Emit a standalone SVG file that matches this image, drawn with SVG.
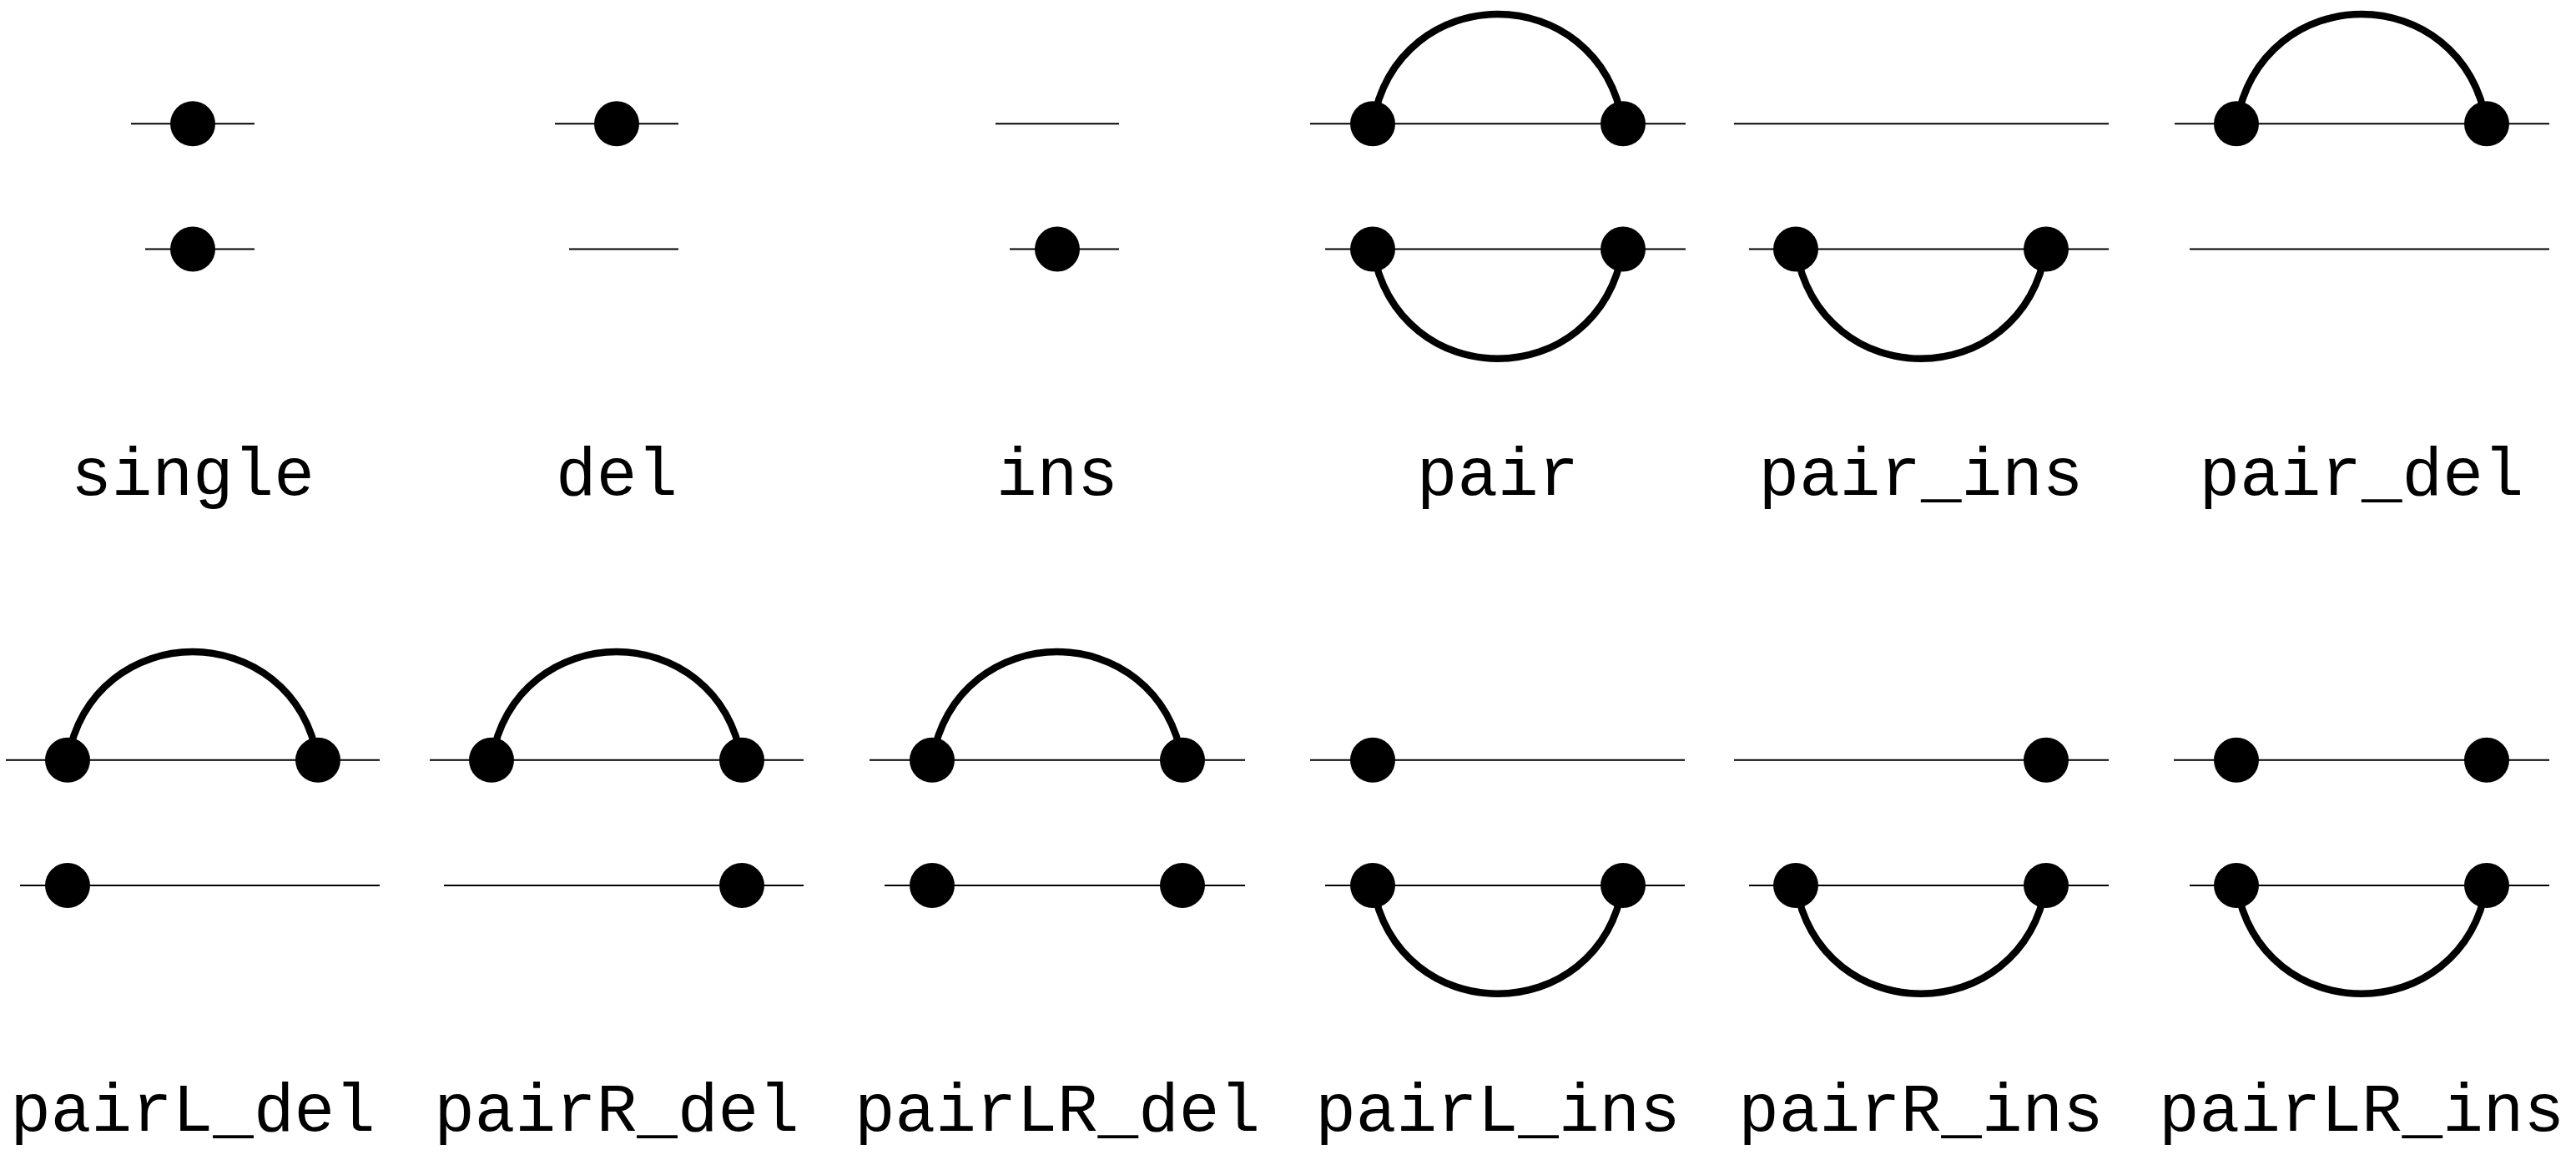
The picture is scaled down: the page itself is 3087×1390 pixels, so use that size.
<svg xmlns="http://www.w3.org/2000/svg" width="3087" height="1390" viewBox="0 0 3087 1390">
<style>
.s{stroke:#000;stroke-width:2;fill:none}
.a{stroke:#000;stroke-width:8.5;fill:none}
.d{fill:#000}
.t{font-family:"Liberation Mono","DejaVu Sans Mono",monospace;font-size:81px;fill:#000;text-anchor:middle}
</style>
<rect width="3087" height="1390" fill="#fff"/>
<g id="connectors">
<path class="a" d="M1645,148.3 C1675,-26.7 1915,-26.7 1945,148.3"/>
<path class="a" d="M1645,298.5 C1675,473.5 1915,473.5 1945,298.5"/>
<path class="a" d="M2152,298.5 C2182,473.5 2422,473.5 2452,298.5"/>
<path class="a" d="M2680,148.3 C2710,-26.7 2950,-26.7 2980,148.3"/>
<path class="a" d="M81,910.8 C111,737.8 351,737.8 381,910.8"/>
<path class="a" d="M589,910.8 C619,737.8 859,737.8 889,910.8"/>
<path class="a" d="M1117,910.8 C1147,737.8 1387,737.8 1417,910.8"/>
<path class="a" d="M1645,1061 C1675,1234 1915,1234 1945,1061"/>
<path class="a" d="M2152,1061 C2182,1234 2422,1234 2452,1061"/>
<path class="a" d="M2680,1061 C2710,1234 2950,1234 2980,1061"/>
</g>
<g id="single">
<line class="s" x1="157" y1="148.3" x2="305" y2="148.3"/>
<line class="s" x1="174" y1="298.5" x2="305" y2="298.5"/>
<circle class="d" cx="231" cy="148.3" r="27"/>
<circle class="d" cx="231" cy="298.5" r="27"/>
<text class="t" x="231" y="593">single</text>
</g>
<g id="del">
<line class="s" x1="665" y1="148.3" x2="813" y2="148.3"/>
<line class="s" x1="682" y1="298.5" x2="813" y2="298.5"/>
<circle class="d" cx="739" cy="148.3" r="27"/>
<text class="t" x="739" y="593">del</text>
</g>
<g id="ins">
<line class="s" x1="1193" y1="148.3" x2="1341" y2="148.3"/>
<line class="s" x1="1210" y1="298.5" x2="1341" y2="298.5"/>
<circle class="d" cx="1267" cy="298.5" r="27"/>
<text class="t" x="1267" y="593">ins</text>
</g>
<g id="pair">
<line class="s" x1="1570" y1="148.3" x2="2020" y2="148.3"/>
<line class="s" x1="1588" y1="298.5" x2="2020" y2="298.5"/>
<circle class="d" cx="1645" cy="148.3" r="27"/>
<circle class="d" cx="1945" cy="148.3" r="27"/>
<circle class="d" cx="1645" cy="298.5" r="27"/>
<circle class="d" cx="1945" cy="298.5" r="27"/>
<text class="t" x="1795" y="593">pair</text>
</g>
<g id="pair_ins">
<line class="s" x1="2078" y1="148.3" x2="2527" y2="148.3"/>
<line class="s" x1="2096" y1="298.5" x2="2527" y2="298.5"/>
<circle class="d" cx="2152" cy="298.5" r="27"/>
<circle class="d" cx="2452" cy="298.5" r="27"/>
<text class="t" x="2302" y="593">pair_ins</text>
</g>
<g id="pair_del">
<line class="s" x1="2606" y1="148.3" x2="3055" y2="148.3"/>
<line class="s" x1="2624" y1="298.5" x2="3055" y2="298.5"/>
<circle class="d" cx="2680" cy="148.3" r="27"/>
<circle class="d" cx="2980" cy="148.3" r="27"/>
<text class="t" x="2830" y="593">pair_del</text>
</g>
<g id="pairL_del">
<line class="s" x1="7" y1="910.8" x2="455" y2="910.8"/>
<line class="s" x1="24" y1="1061" x2="455" y2="1061"/>
<circle class="d" cx="81" cy="910.8" r="27"/>
<circle class="d" cx="381" cy="910.8" r="27"/>
<circle class="d" cx="81" cy="1061" r="27"/>
<text class="t" x="231" y="1355">pairL_del</text>
</g>
<g id="pairR_del">
<line class="s" x1="515" y1="910.8" x2="963" y2="910.8"/>
<line class="s" x1="532" y1="1061" x2="963" y2="1061"/>
<circle class="d" cx="589" cy="910.8" r="27"/>
<circle class="d" cx="889" cy="910.8" r="27"/>
<circle class="d" cx="889" cy="1061" r="27"/>
<text class="t" x="739" y="1355">pairR_del</text>
</g>
<g id="pairLR_del">
<line class="s" x1="1042" y1="910.8" x2="1492" y2="910.8"/>
<line class="s" x1="1060" y1="1061" x2="1492" y2="1061"/>
<circle class="d" cx="1117" cy="910.8" r="27"/>
<circle class="d" cx="1417" cy="910.8" r="27"/>
<circle class="d" cx="1117" cy="1061" r="27"/>
<circle class="d" cx="1417" cy="1061" r="27"/>
<text class="t" x="1267" y="1355">pairLR_del</text>
</g>
<g id="pairL_ins">
<line class="s" x1="1570" y1="910.8" x2="2019" y2="910.8"/>
<line class="s" x1="1588" y1="1061" x2="2019" y2="1061"/>
<circle class="d" cx="1645" cy="910.8" r="27"/>
<circle class="d" cx="1645" cy="1061" r="27"/>
<circle class="d" cx="1945" cy="1061" r="27"/>
<text class="t" x="1795" y="1355">pairL_ins</text>
</g>
<g id="pairR_ins">
<line class="s" x1="2078" y1="910.8" x2="2527" y2="910.8"/>
<line class="s" x1="2096" y1="1061" x2="2527" y2="1061"/>
<circle class="d" cx="2452" cy="910.8" r="27"/>
<circle class="d" cx="2152" cy="1061" r="27"/>
<circle class="d" cx="2452" cy="1061" r="27"/>
<text class="t" x="2302" y="1355">pairR_ins</text>
</g>
<g id="pairLR_ins">
<line class="s" x1="2605" y1="910.8" x2="3055" y2="910.8"/>
<line class="s" x1="2624" y1="1061" x2="3055" y2="1061"/>
<circle class="d" cx="2680" cy="910.8" r="27"/>
<circle class="d" cx="2980" cy="910.8" r="27"/>
<circle class="d" cx="2680" cy="1061" r="27"/>
<circle class="d" cx="2980" cy="1061" r="27"/>
<text class="t" x="2830" y="1355">pairLR_ins</text>
</g>
</svg>
